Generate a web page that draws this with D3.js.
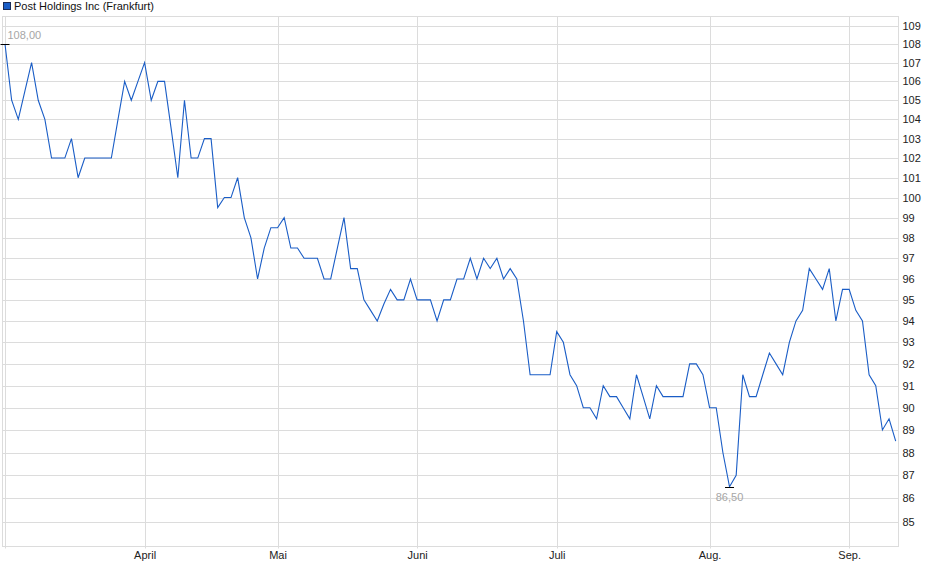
<!DOCTYPE html>
<html>
<head>
<meta charset="utf-8">
<script src="https://cdn.jsdelivr.net/npm/d3@7"></script>
<style>
  html, body { margin: 0; padding: 0; background: #fff; }
  svg { display: block; font-family: "Liberation Sans", Arial, sans-serif; }
</style>
</head>
<body>
<svg id="chart" width="940" height="579"></svg>
<script>
// ---- data ----
const seriesName = "Post Holdings Inc (Frankfurt)";
const prices = [
  108, 105, 104, 105.5, 107, 105, 104, 102, 102, 102,
  103, 101, 102, 102, 102, 102, 102, 104, 106, 105,
  106, 107, 105, 106, 106, 103.5, 101, 105, 102, 102,
  103, 103, 99.5, 100, 100, 101, 99, 98, 96, 97.5,
  98.5, 98.5, 99, 97.5, 97.5, 97, 97, 97, 96, 96,
  97.5, 99, 96.5, 96.5, 95, 94.5, 94, 94.8, 95.5, 95,
  95, 96, 95, 95, 95, 94, 95, 95, 96, 96,
  97, 96, 97, 96.5, 97, 96, 96.5, 96, 94, 91.5,
  91.5, 91.5, 91.5, 93.5, 93, 91.5, 91, 90, 90, 89.5,
  91, 90.5, 90.5, 90, 89.5, 91.5, 90.5, 89.5, 91, 90.5,
  90.5, 90.5, 90.5, 92, 92, 91.5, 90, 90, 88, 86.5,
  87, 91.5, 90.5, 90.5, 91.5, 92.5, 92, 91.5, 93, 94,
  94.5, 96.5, 96, 95.5, 96.5, 94, 95.5, 95.5, 94.5, 94,
  91.5, 91, 89, 89.5, 88.5
];
const monthLabels = ["", "April", "Mai", "Juni", "Juli", "Aug.", "Sep."];
const monthStartIndex = [0, 21, 41, 62, 83, 106, 127];
const yTickValues = d3.range(85, 110);

// ---- layout ----
const svg = d3.select("#chart");
const plot = { left: 2.5, right: 898.5, top: 16.5, bottom: 546.5 };
const lineColor = "#1a5dc6";
const gridColor = "#dcdcdc";

const x = d3.scaleLinear().domain([0, prices.length - 1]).range([5, 895.7]);
const y = d3.scaleLog().domain([83.97, 109.53]).range([546, 16]);

// frame
svg.append("rect")
  .attr("x", plot.left).attr("y", plot.top)
  .attr("width", plot.right - plot.left).attr("height", plot.bottom - plot.top)
  .attr("fill", "none").attr("stroke", gridColor).attr("stroke-width", 1);

// horizontal gridlines
svg.append("g").selectAll("line").data(yTickValues).join("line")
  .attr("x1", plot.left).attr("x2", plot.right)
  .attr("y1", d => Math.round(y(d)) + 0.5).attr("y2", d => Math.round(y(d)) + 0.5)
  .attr("stroke", gridColor).attr("stroke-width", 1);

// vertical gridlines
svg.append("g").selectAll("line").data(monthStartIndex).join("line")
  .attr("x1", d => Math.round(x(d)) + 0.5).attr("x2", d => Math.round(x(d)) + 0.5)
  .attr("y1", plot.top).attr("y2", plot.bottom + 2)
  .attr("stroke", gridColor).attr("stroke-width", 1);

// right axis labels
const yAxis = d3.axisRight(y).tickValues(yTickValues).tickFormat(d3.format("d")).tickSize(0).tickPadding(4);
const gy = svg.append("g").attr("transform", `translate(${plot.right},0)`).call(yAxis);
gy.select(".domain").remove();
gy.selectAll("text").attr("font-size", 11).attr("fill", "#222")
  .attr("font-family", "'Liberation Sans', Arial, sans-serif");

// bottom axis labels
const xAxis = d3.axisBottom(x).tickValues(monthStartIndex)
  .tickFormat((d, i) => monthLabels[i]).tickSize(0).tickPadding(5);
const gx = svg.append("g").attr("transform", `translate(0,${plot.bottom - 0.5})`).call(xAxis);
gx.select(".domain").remove();
gx.selectAll("text").attr("font-size", 11).attr("fill", "#222")
  .attr("font-family", "'Liberation Sans', Arial, sans-serif");

// price line
const line = d3.line().x((d, i) => x(i)).y(d => y(d));
svg.append("path").datum(prices)
  .attr("d", line).attr("fill", "none")
  .attr("stroke", lineColor).attr("stroke-width", 1.1)
  .attr("stroke-linejoin", "miter");

// high / low markers
const fmt = v => d3.format(".2f")(v).replace(".", ",");
const maxIdx = d3.maxIndex(prices);
const minIdx = d3.minIndex(prices);
[maxIdx, minIdx].forEach(i => {
  svg.append("line")
    .attr("x1", x(i) - 4.5).attr("x2", x(i) + 4.5)
    .attr("y1", Math.round(y(prices[i])) + 0.5).attr("y2", Math.round(y(prices[i])) + 0.5)
    .attr("stroke", "#000").attr("stroke-width", 1);
});
svg.append("text")
  .attr("x", x(maxIdx) + 2.5).attr("y", y(prices[maxIdx]) - 5)
  .attr("font-size", 11).attr("fill", "#a6a6a6").attr("text-anchor", "start")
  .text(fmt(prices[maxIdx]));
svg.append("text")
  .attr("x", x(minIdx)).attr("y", y(prices[minIdx]) + 14.5)
  .attr("font-size", 11).attr("fill", "#a6a6a6").attr("text-anchor", "middle")
  .text(fmt(prices[minIdx]));

// legend
svg.append("rect").attr("x", 3.5).attr("y", 2.5).attr("width", 7).attr("height", 7)
  .attr("fill", lineColor).attr("stroke", "#1b2b55").attr("stroke-width", 1);
svg.append("text").attr("x", 14).attr("y", 10)
  .attr("font-size", 11).attr("fill", "#111").text(seriesName);
</script>
</body>
</html>
